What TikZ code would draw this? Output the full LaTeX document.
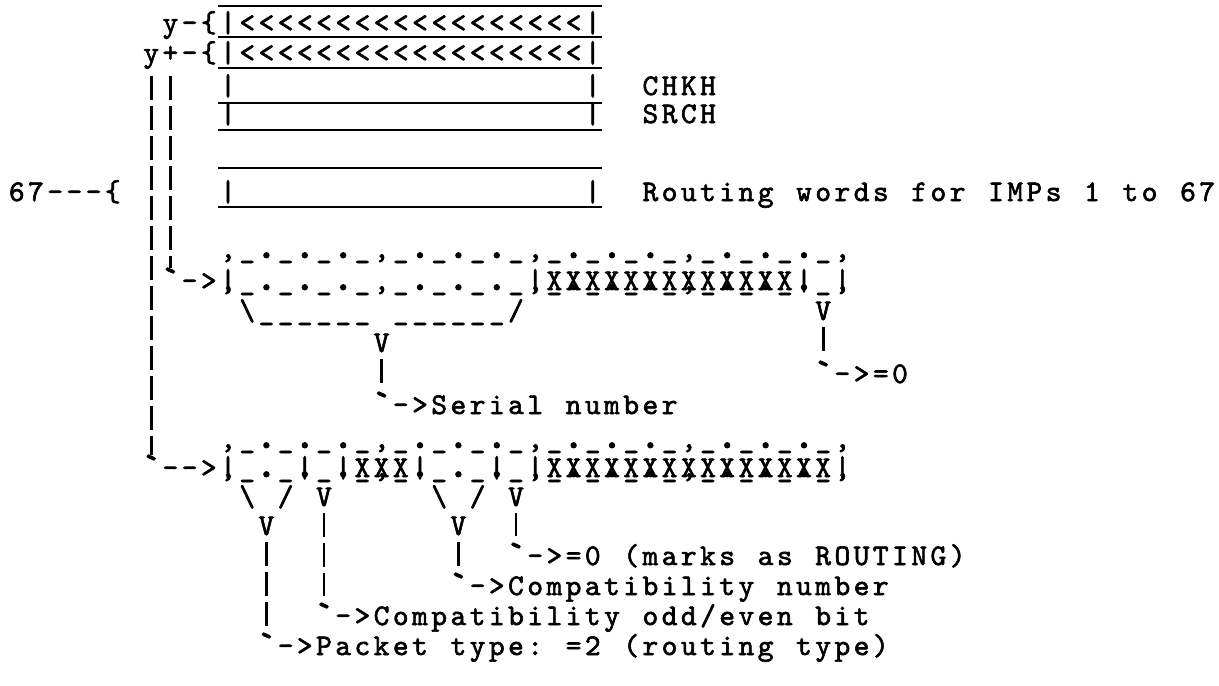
\documentclass[tikz,border=0pt]{standalone}
\usepackage{graphicx}
\usepackage{fontspec}
\newfontfamily\twfont{lmmono10-regular.otf}[FakeBold=2,Ligatures=TeXOff]
\newlength\twcell \setlength\twcell{9.6pt}
\ExplSyntaxOn
\NewDocumentCommand\typed{m}
  {
    \str_map_inline:nn {#1}
      {
        \makebox[\twcell][c]
          {
            \str_case:nnF {##1}
              {
                {*} { }
                {[} { \{ }
                {.} { \scalebox{1.45}{.} }
                {`} { \raisebox{-1.5pt}{\scalebox{1.35}{`}} }
              }
              { ##1 }
          }
      }
  }
\ExplSyntaxOff
% one typed line: name, column, baseline, characters (* = blank, [ = brace)
\newcommand\tw[4]{\node[tw] (#1) at ({218.4+19.2*(#2)},#3) {\typed{#4}};}

\begin{document}
\begin{tikzpicture}[x=.5pt,y=-.5pt,line width=1pt,
  tw/.style={anchor=base west,inner sep=0pt,outer sep=0pt,font=\twfont\fontsize{15pt}{16pt}\selectfont},
  rule/.style={line width=1.1pt},
  bar/.style={line width=1.3pt,dash pattern=on 12pt off 3pt}]
\useasboundingbox (0,0) rectangle (1219,685);
\fill[white] (0,0) rectangle (1219,685);
% table boxes
\draw[rule] (218.4,6)--(602.4,6) (218.4,37)--(602.4,37) (218.4,68)--(602.4,68)
  (218.4,103)--(602.4,103) (218.4,130)--(602.4,130)
  (218.4,168)--(602.4,168) (218.4,207)--(602.4,207);
\tw{ym}{-3}{32}{y-[|<<<<<<<<<<<<<<<<<<|}
\tw{ypm}{-4}{62}{y+-[|<<<<<<<<<<<<<<<<<<|}
\tw{chkbox}{0}{95}{|******************|}\tw{chkh}{22}{95}{CHKH}
\tw{srcbox}{0}{123}{|******************|}\tw{srch}{22}{123}{SRCH}
\tw{n67}{-11}{201}{67---[}
\tw{rbox}{0}{201}{|******************|}\tw{routing}{22}{201}{Routing words for IMPs 1 to 67}
% first word
\tw{wAtop}{0}{258}{,_._._._,_._._._,_._._._,_._._._,}
\tw{wAbot}{0}{290}{,_._._._,_._._._,_._._._,_._._._,}
\tw{wAover}{0}{290}{|***************|XXXXXXXXXXXXX|*|}
\tw{arrA}{-3}{290}{`->}
\tw{brace}{1}{320}{\______*______/}
\tw{vA}{31}{320}{V}
\tw{vSer}{8}{352}{V}
\tw{zeroA}{31}{383}{`->=0}
\tw{serial}{8}{414}{`->Serial number}
% second word
\tw{wBtop}{0}{448}{,_._._._,_._._._,_._._._,_._._._,}
\tw{wBbot}{0}{477}{,_._._._,_._._._,_._._._,_._._._,}
\tw{wBover}{0}{477}{|***|*|XXX|***|*|XXXXXXXXXXXXXXX|}
\tw{arrB}{-4}{477}{`-->}
\tw{forkL}{1}{506}{\*/}\tw{vOdd}{5}{506}{V}
\tw{forkR}{11}{506}{\*/}\tw{vMark}{15}{506}{V}
\tw{vType}{2}{535}{V}\tw{vComp}{12}{535}{V}
\tw{mark}{15}{565}{`->=0 (marks as ROUTING)}
\tw{comp}{12}{595}{`->Compatibility number}
\tw{odd}{5}{625}{`->Compatibility odd/even bit}
\tw{type}{2}{655}{`->Packet type: =2 (routing type)}
% connectors
\draw[bar,shorten <=7pt] ([xshift=4.8pt]ypm.base west) -- ([xshift=4.8pt]arrB.north west);
\draw[bar,shorten <=7pt] ([xshift=14.4pt]ypm.base west) -- ([xshift=4.8pt]arrA.north west);
\draw[bar,shorten <=3.5pt,shorten >=3.5pt] (vSer.south) -- (vSer.south |- serial.north);
\draw[bar,shorten <=3.5pt,shorten >=3.5pt] (vA.south) -- (vA.south |- zeroA.north);
\draw[bar,shorten <=3.5pt,shorten >=3.5pt] (vMark.south) -- (vMark.south |- mark.north);
\draw[bar,shorten <=3.5pt,shorten >=3.5pt] (vComp.south) -- (vComp.south |- comp.north);
\draw[bar,shorten <=3.5pt,shorten >=3.5pt] (vOdd.south) -- (vOdd.south |- odd.north);
\draw[bar,shorten <=3.5pt,shorten >=3.5pt] (vType.south) -- (vType.south |- type.north);
\end{tikzpicture}
\end{document}
